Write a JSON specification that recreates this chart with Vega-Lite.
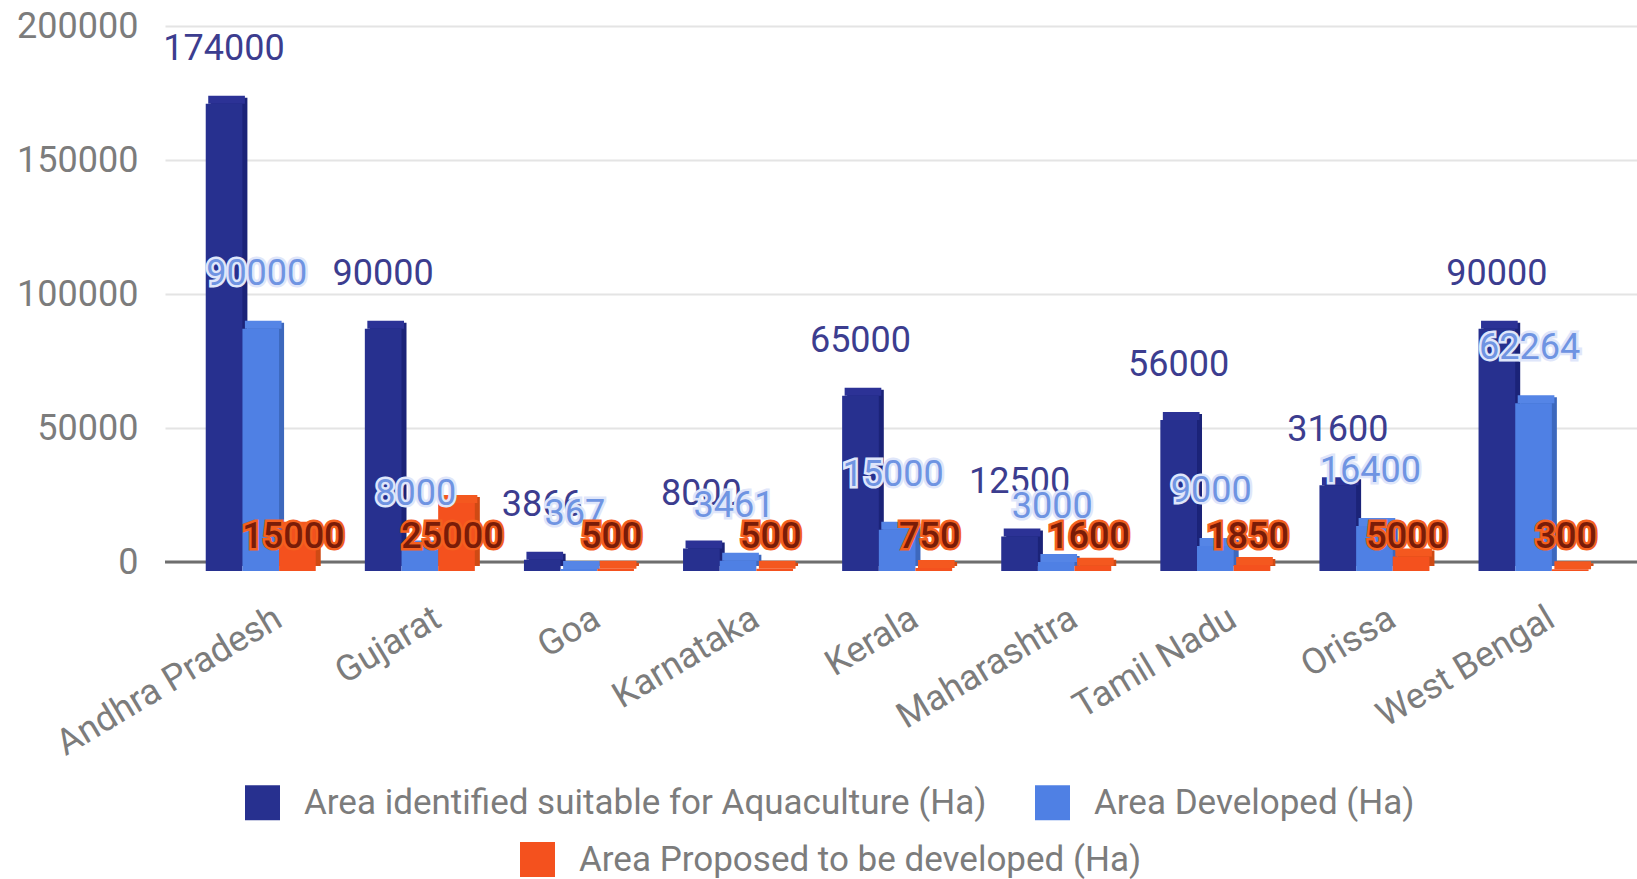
{"$schema":"https://vega.github.io/schema/vega-lite/v6.json","width":1472,"height":536,"autosize":{"type":"none"},"padding":{"left":165,"top":26,"right":0,"bottom":317},"background":"white","config":{"view":{"stroke":null},"text":{"font":"Roboto"}},
"datasets":{"rows":[
{"state":"Andhra Pradesh","series":"Area identified suitable for Aquaculture (Ha)","value":174000},{"state":"Andhra Pradesh","series":"Area Developed (Ha)","value":90000},{"state":"Andhra Pradesh","series":"Area Proposed to be developed (Ha)","value":15000},
{"state":"Gujarat","series":"Area identified suitable for Aquaculture (Ha)","value":90000},{"state":"Gujarat","series":"Area Developed (Ha)","value":8000},{"state":"Gujarat","series":"Area Proposed to be developed (Ha)","value":25000},
{"state":"Goa","series":"Area identified suitable for Aquaculture (Ha)","value":3866},{"state":"Goa","series":"Area Developed (Ha)","value":367},{"state":"Goa","series":"Area Proposed to be developed (Ha)","value":500},
{"state":"Karnataka","series":"Area identified suitable for Aquaculture (Ha)","value":8000},{"state":"Karnataka","series":"Area Developed (Ha)","value":3461},{"state":"Karnataka","series":"Area Proposed to be developed (Ha)","value":500},
{"state":"Kerala","series":"Area identified suitable for Aquaculture (Ha)","value":65000},{"state":"Kerala","series":"Area Developed (Ha)","value":15000},{"state":"Kerala","series":"Area Proposed to be developed (Ha)","value":750},
{"state":"Maharashtra","series":"Area identified suitable for Aquaculture (Ha)","value":12500},{"state":"Maharashtra","series":"Area Developed (Ha)","value":3000},{"state":"Maharashtra","series":"Area Proposed to be developed (Ha)","value":1600},
{"state":"Tamil Nadu","series":"Area identified suitable for Aquaculture (Ha)","value":56000},{"state":"Tamil Nadu","series":"Area Developed (Ha)","value":9000},{"state":"Tamil Nadu","series":"Area Proposed to be developed (Ha)","value":1850},
{"state":"Orissa","series":"Area identified suitable for Aquaculture (Ha)","value":31600},{"state":"Orissa","series":"Area Developed (Ha)","value":16400},{"state":"Orissa","series":"Area Proposed to be developed (Ha)","value":5000},
{"state":"West Bengal","series":"Area identified suitable for Aquaculture (Ha)","value":90000},{"state":"West Bengal","series":"Area Developed (Ha)","value":62264},{"state":"West Bengal","series":"Area Proposed to be developed (Ha)","value":300}
]},
"data":{"name":"rows"},
"encoding":{
"x":{"field":"state","type":"nominal","sort":null,"title":null,"scale":{"paddingInner":0,"paddingOuter":0.126,"align":0.4},"axis":{"domain":false,"ticks":false,"grid":false,"labelAngle":-31,"labelAlign":"right","labelBaseline":"middle","labelFont":"Roboto","labelFontSize":36,"labelColor":"#7c7c7c","labelPadding":53,"labelOffset":18,"labelLimit":400}},
"xOffset":{"field":"series","type":"nominal","sort":["Area identified suitable for Aquaculture (Ha)","Area Developed (Ha)","Area Proposed to be developed (Ha)"],"scale":{"type":"band","domain":["Area identified suitable for Aquaculture (Ha)","Area Developed (Ha)","Area Proposed to be developed (Ha)"],"range":[24.7,134.7],"paddingInner":0,"paddingOuter":0}},
"y":{"field":"value","type":"quantitative","title":null,"scale":{"domain":[0,200000],"nice":false},"axis":{"values":[0,50000,100000,150000,200000],"format":"d","domain":false,"ticks":false,"grid":true,"gridColor":"#e4e4e4","gridWidth":2,"labelFont":"Roboto","labelFontSize":36,"labelColor":"#7c7c7c","labelPadding":27}}
},
"layer":[
{"mark":{"type":"rule","color":"#6e6e6e","strokeWidth":3},"data":{"values":[{"base":0}]},"encoding":{"x":{"value":0},"xOffset":{"value":0},"x2":{"value":1472},"y":{"field":"base","type":"quantitative"}}},
{"layer":[
{"mark":{"type":"bar","yOffset":2,"y2Offset":4},"encoding":{"xOffset":{"field":"series","type":"nominal","scale":{"type":"band","domain":["Area identified suitable for Aquaculture (Ha)","Area Developed (Ha)","Area Proposed to be developed (Ha)"],"range":[29.7,139.7],"paddingInner":0,"paddingOuter":0}},"y2":{"datum":0},"color":{"field":"series","type":"nominal","legend":null,"scale":{"domain":["Area identified suitable for Aquaculture (Ha)","Area Developed (Ha)","Area Proposed to be developed (Ha)"],"range":["#1b2378","#3d68bd","#cf4a14"]}}}},
{"mark":{"type":"bar","yOffset":0,"y2Offset":8},"encoding":{"xOffset":{"field":"series","type":"nominal","scale":{"type":"band","domain":["Area identified suitable for Aquaculture (Ha)","Area Developed (Ha)","Area Proposed to be developed (Ha)"],"range":[27.2,137.2],"paddingInner":0,"paddingOuter":0}},"y2":{"field":"value"},"color":{"field":"series","type":"nominal","legend":null,"scale":{"domain":["Area identified suitable for Aquaculture (Ha)","Area Developed (Ha)","Area Proposed to be developed (Ha)"],"range":["#2c3296","#5585e6","#f4581f"]}}}}
],"resolve":{"scale":{"xOffset":"independent","color":"independent"}}},
{"transform":[{"filter":"datum.series !== 'Area Proposed to be developed (Ha)'"}],"mark":{"type":"bar","yOffset":8,"y2Offset":9},"encoding":{"y2":{"datum":0},"color":{"field":"series","type":"nominal","sort":null,"scale":{"domain":["Area identified suitable for Aquaculture (Ha)","Area Developed (Ha)"],"range":["#27308f","#4f80e4"]},"legend":{"title":null,"orient":"none","legendX":80,"legendY":759,"columns":2,"columnPadding":48,"symbolType":"square","symbolSize":1225,"symbolStrokeWidth":0,"symbolOpacity":1,"labelFont":"Roboto","labelFontSize":35,"labelColor":"#7c7c7c","labelLimit":800,"labelOffset":24,"rowPadding":6}}}},
{"transform":[{"filter":"datum.series === 'Area Proposed to be developed (Ha)'"}],"mark":{"type":"bar","yOffset":8,"y2Offset":9},"encoding":{"y2":{"datum":0},"color":{"field":"series","type":"nominal","scale":{"domain":["Area Proposed to be developed (Ha)"],"range":["#f4511e"]},"legend":{"title":null,"orient":"none","legendX":355,"legendY":816,"symbolType":"square","symbolSize":1225,"symbolStrokeWidth":0,"symbolOpacity":1,"labelFont":"Roboto","labelFontSize":35,"labelColor":"#7c7c7c","labelLimit":800,"labelOffset":24}}}},
{"transform":[{"filter":"datum.series === 'Area identified suitable for Aquaculture (Ha)'"}],"mark":{"type":"text","font":"Roboto","fontSize":36,"baseline":"middle","dy":-47,"fill":"#3c3d8f"},"encoding":{"text":{"field":"value","type":"quantitative","format":"d"}}},
{"transform":[{"filter":"datum.series === 'Area Developed (Ha)'"}],"mark":{"type":"text","font":"Roboto","fontSize":36,"baseline":"middle","dy":-47,"dx":-4,"fill":"#dfe6fa","stroke":"#dfe6fa","strokeWidth":5},"encoding":{"text":{"field":"value","type":"quantitative","format":"d"}}},
{"transform":[{"filter":"datum.series === 'Area Developed (Ha)'"}],"mark":{"type":"text","font":"Roboto","fontSize":36,"baseline":"middle","dy":-47,"dx":-4,"fill":"#6f94e2"},"encoding":{"text":{"field":"value","type":"quantitative","format":"d"}}},
{"transform":[{"filter":"datum.series === 'Area Proposed to be developed (Ha)'"}],"mark":{"type":"text","font":"Roboto","fontSize":36,"fontWeight":500,"baseline":"middle","dx":-4,"fill":"#f4601f","stroke":"#f4601f","strokeWidth":5},"encoding":{"y":{"datum":9400},"text":{"field":"value","type":"quantitative","format":"d"}}},
{"transform":[{"filter":"datum.series === 'Area Proposed to be developed (Ha)'"}],"mark":{"type":"text","font":"Roboto","fontSize":36,"fontWeight":500,"baseline":"middle","dx":-4,"fill":"#7a1c08"},"encoding":{"y":{"datum":9400},"text":{"field":"value","type":"quantitative","format":"d"}}}
],
"resolve":{"scale":{"color":"independent","xOffset":"independent"},"legend":{"color":"independent"}}}
